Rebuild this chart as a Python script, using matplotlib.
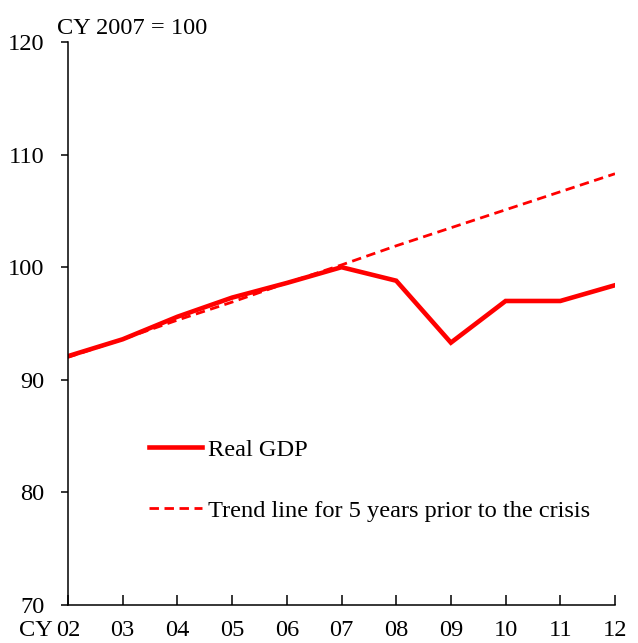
import matplotlib
matplotlib.use("Agg")
import matplotlib.pyplot as plt
from matplotlib.transforms import offset_copy

years = ["02", "03", "04", "05", "06", "07", "08", "09", "10", "11", "12"]
real_gdp = [92.1, 93.6, 95.6, 97.3, 98.6, 100.0, 98.8, 93.3, 97.0, 97.0, 98.4]
trend = [92.0, 93.6, 95.3, 96.9, 98.6, 100.2, 101.9, 103.5, 105.1, 106.7, 108.3]
yticks = [70, 80, 90, 100, 110, 120]

plt.rcParams['font.family'] = ['Liberation Serif', 'DejaVu Serif']
fs = 17.6
xpad = 10.5

fig = plt.figure(figsize=(6.38, 6.43), dpi=100)
ax = fig.add_axes([68/638, 1-605/643, (615-68)/638, (605-42)/643])
x = list(range(len(years)))
ax.plot(x, real_gdp, color='#ff0000', lw=3.3, label='Real GDP', solid_joinstyle='miter')
ax.plot(x, trend, color='#ff0000', lw=2.0, ls=(0, (3.4, 2.0)),
        label='Trend line for 5 years prior to the crisis')
ax.set_xlim(0, len(years)-1)
ax.set_ylim(70, 120)
ax.set_yticks(yticks)
ax.set_yticklabels([str(v) for v in yticks], fontsize=fs)
ax.set_xticks(x)
ax.set_xticklabels(years, fontsize=fs)
ax.spines['top'].set_visible(False)
ax.spines['right'].set_visible(False)
for s in ['left', 'bottom']:
    ax.spines[s].set_linewidth(1.1)
ax.tick_params(axis='y', direction='out', length=5, width=1.1, pad=12)
ax.tick_params(axis='x', direction='in', length=7, width=1.1, pad=xpad)
trans = offset_copy(ax.get_xaxis_transform(), fig=fig, x=0, y=-xpad, units='points')
ax.text(-0.27, 0, "CY", transform=trans, ha='right', va='top', fontsize=fs, clip_on=False)
fig.text(57/638, 1-34/643, "CY 2007 = 100", ha='left', va='baseline', fontsize=fs)
ax.legend(loc='upper left', bbox_to_anchor=(0.107, 0.335), frameon=False, fontsize=fs,
          handlelength=2.2, labelspacing=1.6, handletextpad=0.25)
fig.savefig("out.png", dpi=100)
